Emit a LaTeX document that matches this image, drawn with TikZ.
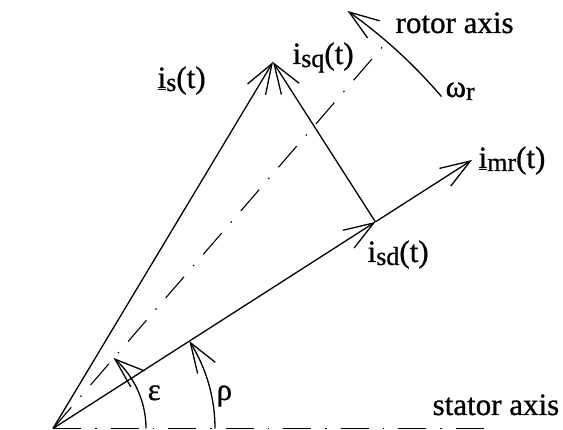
\documentclass[tikz,border=0pt]{standalone}
\usepackage{fontspec}
\setmainfont{Liberation Serif}[FakeBold=0.8]
\usetikzlibrary{arrows.meta,calc,bending}
\newcommand\subx[1]{\raisebox{-3pt}{\fontsize{26}{26}\selectfont #1}}
\begin{document}
\begin{tikzpicture}[x=1pt,y=1pt, line width=1.3pt,
  vec/.style={-{Straight Barb[length=30pt,width=21pt]}},
  arcvec/.style={-{Straight Barb[length=30pt,width=21pt,flex]}},
  axisline/.style={line width=1.1pt, dash pattern=on 28pt off 14pt on 1.5pt off 14pt},
  lbl/.style={font=\fontsize{31}{31}\selectfont, inner sep=0pt, anchor=base west}]
\useasboundingbox (0,0) rectangle (563,430);
% points
\coordinate (O) at (53,1.5);
\coordinate (S) at (273,368);
\coordinate (M) at (472,270);
\coordinate (D) at ($(O)!(S)!(M)$);
\coordinate (R) at ($(O)+(49.2:515pt)$);
\coordinate (X) at (493,1.5);
% axes
\draw[axisline] (O) -- (R);
\draw[axisline] (O) -- (X);
% vectors
\draw[vec] (O) -- (S);
\draw[vec] (D) -- (S);
\draw[vec] (O) -- (D);
\draw[vec] (D) -- (M);
% angle arcs
\draw[arcvec] ($(O)+(0:93pt)$) coordinate (e0) arc[start angle=0, end angle=49.4, radius=93pt] coordinate (e1);
\draw[arcvec] ($(O)+(0:162pt)$) coordinate (r0) arc[start angle=0, end angle=32.7, radius=162pt] coordinate (r1);
\draw[arcvec] ($(O)+(40.5:511pt)$) coordinate (w0) arc[start angle=40.5, end angle=54.8, radius=511pt] coordinate (w1);
% labels
\node[lbl] (lrotor) at (395,397) {rotor axis};
\node[lbl] (lisq) at (292,366) {i\subx{sq}(t)};
\node[lbl] (lis) at (157,342) {\underline{i}\subx{s}(t)};
\node[lbl] (lw) at (445,333) {ω\subx{r}};
\node[lbl] (limr) at (478,262) {\underline{i}\subx{mr}(t)};
\node[lbl] (lisd) at (367,168) {i\subx{sd}(t)};
\node[lbl] (leps) at (147,30) {ε};
\node[lbl] (lrho) at (216,30) {ρ};
\node[lbl] (lstator) at (432,15) {stator axis};
\end{tikzpicture}
\end{document}
